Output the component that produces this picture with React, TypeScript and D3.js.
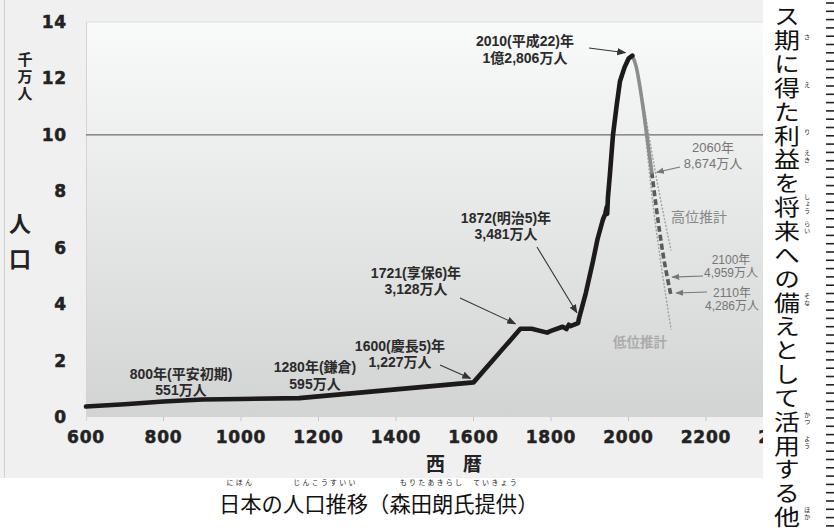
import React from "react";
import * as d3 from "d3";

const histYears = [600, 700, 800, 900, 1000, 1150, 1600, 1721, 1750, 1790, 1800, 1830, 1840, 1846, 1850, 1870, 1872, 1890, 1908, 1920, 1934, 1940, 1944, 1945, 1947, 1952, 1960, 1970, 1978, 1990, 2000, 2010];
const histPop = [0.37, 0.45, 0.551, 0.62, 0.64, 0.67, 1.227, 3.128, 3.13, 2.99, 3.05, 3.2, 3.12, 3.27, 3.22, 3.33, 3.481, 4.4, 5.5, 6.3, 7.0, 7.2, 7.45, 7.2, 7.8, 8.6, 10.0, 11.1, 11.9, 12.4, 12.7, 12.806];

const midYears = [2010, 2020, 2030, 2040, 2050, 2060];
const midPop = [12.806, 12.41, 11.66, 10.73, 9.71, 8.674];
const midDashYears = [2060, 2070, 2080, 2090, 2100, 2110];
const midDashPop = [8.674, 7.6, 6.6, 5.7, 4.959, 4.286];
const highYears = [2030, 2040, 2050, 2060, 2080, 2110];
const highPop = [11.7, 11.0, 10.2, 9.4, 7.9, 5.9];
const lowYears = [2030, 2040, 2050, 2060, 2080, 2110];
const lowPop = [11.6, 10.5, 9.2, 7.9, 5.8, 3.1];

const xTicks = [600, 800, 1000, 1200, 1400, 1600, 1800, 2000, 2200, 2400];
const yTicks = [0, 2, 4, 6, 8, 10, 12, 14];

const columnText = "ス期に得た利益を将来への備えとして活用する他";
const columnRuby: [number, string][] = [[1, "さ"], [3, "え"], [5, "り"], [6, "えき"], [8, "しょう"], [9, "らい"], [12, "そな"], [17, "かつ"], [18, "よう"], [21, "ほか"]];

const caption = "日本の人口推移（森田朗氏提供）";
const captionRuby: [number, number, string][] = [[0, 2, "にほん"], [3, 4, "じんこうすいい"], [8, 4, "もりたあきらし"], [12, 2, "ていきょう"]];

const W = 834, H = 530;
const x = d3.scaleLinear().domain([600, 2400]).range([86, 783.5]);
const y = d3.scaleLinear().domain([0, 14]).range([417, 22]);

const mk = (ys: number[], vs: number[], curve: d3.CurveFactory = d3.curveMonotoneX) =>
  d3.line<number>().x((_, i) => x(ys[i])).y((v) => y(v)).curve(curve)(vs) || "";

const LF = "'Liberation Sans', 'Noto Sans CJK JP', sans-serif";
const CJK = "'Noto Sans CJK JP', sans-serif";

type Ann = { lines: string[]; cx: number; by: number; from?: [number, number]; tip?: [number, number]; gray?: boolean; size: number; weight: string; fill: string; lh: number };

export default function App() {
  const anns: Ann[] = [
    { lines: ["2010(平成22)年", "1億2,806万人"], cx: 525, by: 46, from: [589, 48], tip: [x(2010) - 7, y(12.806) - 3], size: 14, weight: "bold", fill: "#2a2a2a", lh: 17 },
    { lines: ["1872(明治5)年", "3,481万人"], cx: 506, by: 223, from: [537, 247], tip: [x(1872) - 2, y(3.481) - 6], size: 14, weight: "bold", fill: "#2a2a2a", lh: 16 },
    { lines: ["1721(享保6)年", "3,128万人"], cx: 416, by: 278, from: [460, 298], tip: [x(1721) - 5, y(3.128) - 5], size: 14, weight: "bold", fill: "#2a2a2a", lh: 16 },
    { lines: ["1600(慶長5)年", "1,227万人"], cx: 400, by: 351, from: [440, 365], tip: [x(1600) - 3, y(1.227) - 4], size: 14, weight: "bold", fill: "#2a2a2a", lh: 16 },
    { lines: ["1280年(鎌倉)", "595万人"], cx: 315, by: 372, size: 14, weight: "bold", fill: "#2a2a2a", lh: 17 },
    { lines: ["800年(平安初期)", "551万人"], cx: 181, by: 379, size: 14, weight: "bold", fill: "#2a2a2a", lh: 16 },
    { lines: ["2060年", "8,674万人"], cx: 713, by: 152, from: [680, 167], tip: [x(2060) + 5, y(8.674)], gray: true, size: 13, weight: "normal", fill: "#767676", lh: 16 },
    { lines: ["2100年", "4,959万人"], cx: 731, by: 264, from: [703, 276], tip: [x(2100) + 5, y(4.959)], gray: true, size: 12, weight: "normal", fill: "#767676", lh: 13 },
    { lines: ["2110年", "4,286万人"], cx: 732, by: 297, from: [707, 292], tip: [x(2110) + 5, y(4.286) - 3], gray: true, size: 12, weight: "normal", fill: "#767676", lh: 13 },
  ];

  const dashes = d3.range(3, H, 8.3);
  const capX0 = 219, capStep = 21.3;
  const colY0 = 16, colStep = 23.85, colFont = 22;

  return (
    <svg width={W} height={H} style={{ position: "absolute", left: 0, top: 0 }} xmlns="http://www.w3.org/2000/svg">
      <defs>
        <linearGradient id="plotbg" x1="0" y1="0" x2="0" y2="1">
          <stop offset="0%" stopColor="#f9fafa" />
          <stop offset="100%" stopColor="#d2d3d3" />
        </linearGradient>
        <marker id="ah" viewBox="0 0 10 10" refX="9" refY="5" markerWidth="9" markerHeight="9" markerUnits="userSpaceOnUse" orient="auto">
          <path d="M0,1 L10,5 L0,9 Z" fill="#333" />
        </marker>
        <marker id="ahg" viewBox="0 0 10 10" refX="9" refY="5" markerWidth="8" markerHeight="8" markerUnits="userSpaceOnUse" orient="auto">
          <path d="M0,1 L10,5 L0,9 Z" fill="#777" />
        </marker>
      </defs>
      <rect x={0} y={0} width={W} height={H} fill="#ffffff" />
      <rect x={0} y={0} width={763} height={478} fill="#f0f0f0" />
      <line x1={4.5} y1={0} x2={4.5} y2={478} stroke="#cfcfcf" />
      <rect x={x(600)} y={y(14)} width={763 - x(600)} height={y(0) - y(14)} fill="url(#plotbg)" />
      <line x1={x(600)} y1={y(14)} x2={763} y2={y(14)} stroke="#dedede" />
      <line x1={x(600) + 0.5} y1={y(14)} x2={x(600) + 0.5} y2={y(0) + 4} stroke="#d4d4d4" />
      <line x1={x(600)} y1={y(10)} x2={763} y2={y(10)} stroke="#6e6e6e" strokeWidth={1.2} />
      {xTicks.slice(1).map((t) => (
        <line key={"xt" + t} x1={x(t)} x2={x(t)} y1={y(0)} y2={y(0) + 4} stroke="#c4c4c4" />
      ))}
      {xTicks.map((t) => (
        <text key={"xl" + t} x={x(t)} y={443} textAnchor="middle" fontFamily="'DejaVu Sans', sans-serif" fontWeight="bold" fontSize={17} fill="#222" stroke="#222" strokeWidth={0.5} letterSpacing={0.8}>{t}</text>
      ))}
      {yTicks.map((t) => (
        <text key={"yl" + t} x={67} y={y(t) + 6} textAnchor="end" fontFamily="'DejaVu Sans', sans-serif" fontWeight="bold" fontSize={17} fill="#222" stroke="#222" strokeWidth={0.5} letterSpacing={0.8}>{t}</text>
      ))}
      <text x={25} y={52} style={{ writingMode: "vertical-rl" }} fontFamily={CJK} fontWeight="bold" fontSize={15} letterSpacing={2} fill="#222">千万人</text>
      <text x={20} y={213} style={{ writingMode: "vertical-rl" }} fontFamily={CJK} fontWeight="bold" fontSize={22} letterSpacing={13} fill="#222">人口</text>
      <text x={426} y={471} fontFamily={CJK} fontWeight="bold" fontSize={19} letterSpacing={18} fill="#222">西暦</text>

      <path d={mk(lowYears, lowPop)} fill="none" stroke="#a0a0a0" strokeWidth={1.4} strokeDasharray="2,1.6" />
      <path d={mk(highYears, highPop)} fill="none" stroke="#a0a0a0" strokeWidth={1.4} strokeDasharray="2,1.6" />
      <path d={mk(midDashYears, midDashPop)} fill="none" stroke="#5a5a5a" strokeWidth={3.6} strokeDasharray="6,3" />
      <path d={mk(midYears, midPop)} fill="none" stroke="#8c8c8c" strokeWidth={3.6} strokeLinecap="round" />
      <path d={mk(histYears, histPop, d3.curveLinear)} fill="none" stroke="#1c1a1a" strokeWidth={4.6} strokeLinejoin="round" strokeLinecap="round" />

      {anns.map((a, i) => (
        <g key={"a" + i}>
          {a.lines.map((l, j) => (
            <text key={j} x={a.cx} y={a.by + j * a.lh} textAnchor="middle" fontFamily={LF} fontWeight={a.weight} fontSize={a.size} fill={a.fill}>{l}</text>
          ))}
          {a.from && a.tip && (
            <line x1={a.from[0]} y1={a.from[1]} x2={a.tip[0]} y2={a.tip[1]} stroke={a.gray ? "#777" : "#333"} strokeWidth={1.1} markerEnd={a.gray ? "url(#ahg)" : "url(#ah)"} />
          )}
        </g>
      ))}
      <text x={699} y={222} textAnchor="middle" fontFamily={CJK} fontSize={14} fill="#868686">高位推計</text>
      <text x={640} y={347} textAnchor="middle" fontFamily={CJK} fontWeight="bold" fontSize={13.5} fill="#ababab">低位推計</text>

      <rect x={763} y={0} width={W - 763} height={H} fill="#ffffff" />
      <rect x={0} y={478} width={763} height={H - 478} fill="#ffffff" />
      <g transform={`translate(787,${colY0 - colFont / 2}) scale(1.18,1)`}>
        <text x={0} y={0} style={{ writingMode: "vertical-rl" }} fontFamily={CJK} fontSize={colFont} letterSpacing={colStep - colFont} fill="#111">{columnText}</text>
      </g>
      {columnRuby.map(([idx, r], k) => (
        <text key={"r" + k} x={807} y={colY0 + idx * colStep - 3} textAnchor="middle" style={{ writingMode: "vertical-rl" }} fontFamily={CJK} fontSize={6.2} letterSpacing={0.6} fill="#222">{r}</text>
      ))}
      {dashes.map((d, i) => (
        <line key={"d" + i} x1={826} x2={834} y1={d} y2={d} stroke="#222" strokeWidth={1.6} />
      ))}
      {captionRuby.map(([s, n, r], i) => (
        <text key={"cr" + i} x={capX0 + (s + n / 2) * capStep} y={484.8} textAnchor="middle" fontFamily={CJK} fontSize={7} fill="#222" letterSpacing={n > 1 ? 2.2 : 0}>{r}</text>
      ))}
      <text x={capX0} y={511.5} fontFamily={CJK} fontSize={capStep} fill="#111">{caption}</text>
    </svg>
  );
}
